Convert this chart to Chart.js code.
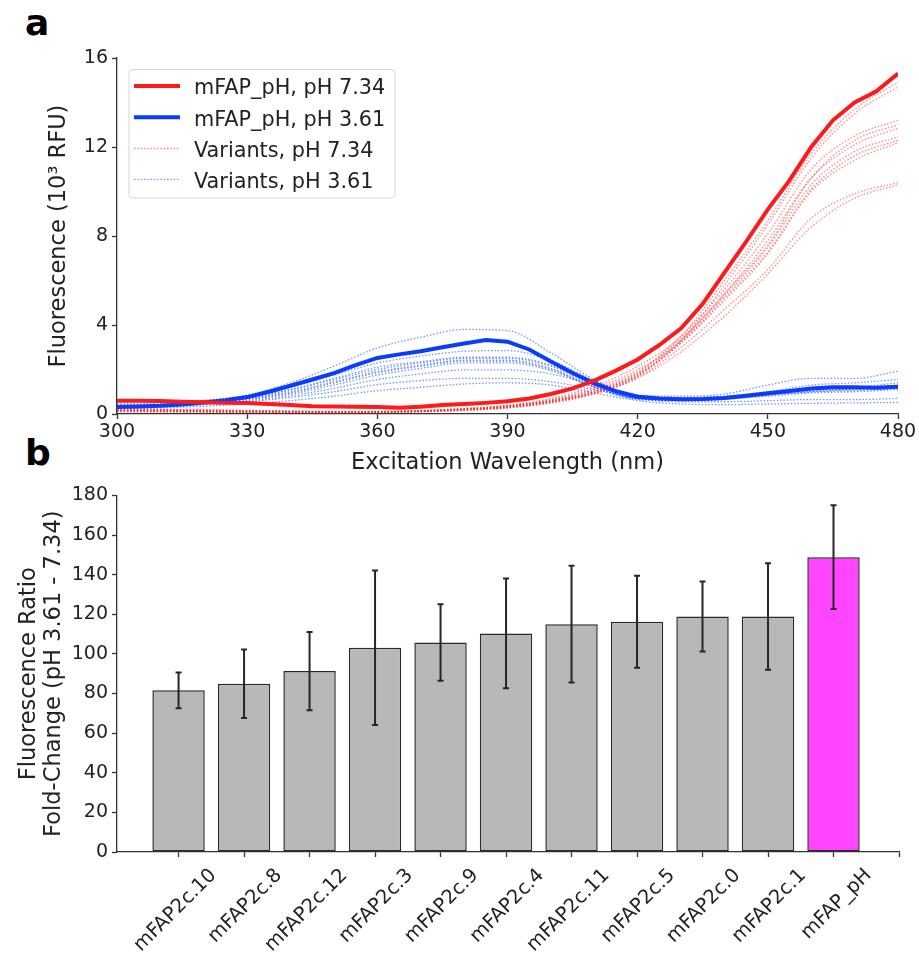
<!DOCTYPE html>
<html><head><meta charset="utf-8">
<script src="https://cdn.jsdelivr.net/npm/chart.js@4.4.1/dist/chart.umd.min.js"></script>
<style>
body{margin:0;background:#fff;width:919px;height:955px;position:relative;overflow:hidden;font-family:"DejaVu Sans";}
#ca{position:absolute;left:0;top:0;}
#cb{position:absolute;left:0;top:480px;}
.lbl{position:absolute;font-weight:bold;font-size:36px;line-height:36px;font-family:"DejaVu Sans";color:#000;}
</style></head><body>
<div class="lbl" style="left:25px;top:5px">a</div>
<div class="lbl" style="left:25px;top:435px">b</div>
<canvas id="ca" width="919" height="480"></canvas>
<canvas id="cb" width="919" height="475"></canvas>
<script>
// ---------- Panel a data ----------
const wavelengths5 = [300,305,310,315,320,325,330,335,340,345,350,355,360,365,370,375,380,385,390,395,400,405,410,415,420,425,430,435,440,445,450,455,460,465,470,475,480];
const mfapPH734 = [0.60,0.60,0.58,0.55,0.53,0.50,0.49,0.45,0.40,0.35,0.34,0.33,0.32,0.28,0.33,0.40,0.45,0.50,0.57,0.70,0.90,1.15,1.50,1.95,2.45,3.10,3.85,4.95,6.35,7.75,9.20,10.50,12.00,13.20,14.00,14.50,15.30];
const mfapPH361 = [0.32,0.34,0.37,0.43,0.52,0.62,0.76,1.00,1.27,1.55,1.84,2.20,2.52,2.68,2.82,3.00,3.17,3.33,3.25,2.90,2.36,1.84,1.38,1.02,0.78,0.70,0.66,0.67,0.72,0.82,0.93,1.03,1.15,1.20,1.20,1.18,1.22];
const wavelengths10 = [300,310,320,330,340,350,360,370,380,390,400,410,420,430,440,450,460,470,480];
const variantsPH734 = [
  [0.20,0.18,0.16,0.14,0.12,0.10,0.10,0.15,0.25,0.40,0.70,1.25,2.15,3.50,6.00,8.70,11.70,13.70,14.90],
  [0.15,0.14,0.12,0.10,0.10,0.08,0.10,0.14,0.22,0.36,0.65,1.15,2.00,3.30,5.80,8.50,11.50,13.50,14.70],
  [0.25,0.22,0.20,0.17,0.15,0.12,0.12,0.16,0.24,0.38,0.62,1.10,1.90,3.50,5.60,8.10,11.00,12.50,13.20],
  [0.18,0.16,0.14,0.12,0.10,0.10,0.10,0.14,0.22,0.35,0.60,1.05,1.85,3.40,5.40,7.80,10.60,12.10,12.85],
  [0.22,0.20,0.18,0.15,0.12,0.10,0.10,0.13,0.20,0.33,0.58,1.00,1.80,3.30,5.30,7.50,10.30,11.80,12.45],
  [0.12,0.10,0.10,0.08,0.07,0.06,0.07,0.11,0.18,0.30,0.55,0.98,1.75,3.20,5.20,7.30,10.10,11.60,12.30],
  [0.16,0.14,0.12,0.10,0.08,0.07,0.08,0.12,0.20,0.32,0.56,0.98,1.75,3.20,5.10,7.20,10.00,11.40,12.20],
  [0.10,0.10,0.08,0.07,0.06,0.05,0.06,0.10,0.16,0.27,0.50,0.92,1.70,3.30,5.40,7.60,10.60,12.30,13.00],
  [0.20,0.18,0.15,0.12,0.10,0.09,0.10,0.13,0.20,0.32,0.55,0.95,1.65,3.00,4.70,6.50,8.80,9.90,10.40],
  [0.14,0.12,0.10,0.09,0.08,0.07,0.08,0.11,0.17,0.28,0.50,0.90,1.60,2.80,4.40,6.30,8.40,9.70,10.30]
];
const variantsPH361 = [
  [0.45,0.50,0.62,0.85,1.40,2.15,2.97,3.45,3.80,3.75,2.75,1.55,0.85,0.80,0.90,1.30,1.60,1.60,1.92],
  [0.40,0.45,0.58,0.80,1.20,1.75,2.29,2.60,2.82,2.85,2.40,1.50,0.80,0.75,0.80,1.00,1.30,1.40,1.55],
  [0.35,0.40,0.55,0.75,1.10,1.60,2.10,2.35,2.55,2.55,2.20,1.35,0.75,0.70,0.75,0.95,1.15,1.20,1.40],
  [0.38,0.42,0.55,0.72,1.08,1.55,2.00,2.30,2.50,2.50,2.15,1.30,0.70,0.65,0.70,0.90,1.10,1.15,1.30],
  [0.33,0.38,0.50,0.70,1.00,1.45,1.90,2.20,2.42,2.42,2.05,1.25,0.68,0.63,0.68,0.88,1.05,1.12,1.25],
  [0.30,0.36,0.48,0.68,0.95,1.40,1.85,2.15,2.38,2.38,2.00,1.20,0.65,0.60,0.65,0.85,1.00,1.10,1.20],
  [0.32,0.37,0.48,0.65,0.90,1.30,1.75,2.05,2.30,2.30,1.95,1.20,0.70,0.65,0.70,0.85,1.00,1.05,1.15],
  [0.28,0.33,0.45,0.60,0.82,1.15,1.55,1.80,1.98,1.98,1.80,1.30,0.85,0.70,0.70,0.80,0.95,1.00,1.10],
  [0.30,0.33,0.42,0.55,0.75,1.00,1.32,1.50,1.60,1.60,1.45,1.10,0.70,0.55,0.55,0.60,0.65,0.65,0.70],
  [0.25,0.28,0.35,0.45,0.60,0.80,1.05,1.20,1.35,1.40,1.30,0.95,0.60,0.45,0.42,0.45,0.48,0.50,0.52]
];
const xTicksA = [300,330,360,390,420,450,480];
const yTicksA = [0,4,8,12,16];

// ---------- Panel b data ----------
const variants = ['mFAP2c.10','mFAP2c.8','mFAP2c.12','mFAP2c.3','mFAP2c.9','mFAP2c.4','mFAP2c.11','mFAP2c.5','mFAP2c.0','mFAP2c.1','mFAP_pH'];
const foldChange = [81.6,84.9,91.3,103.1,105.8,110.3,115.0,116.2,118.9,118.9,148.8];
const foldError = [9.0,17.3,19.7,39.0,19.3,27.7,29.5,23.2,17.7,26.9,26.2];
const yTicksB = [0,20,40,60,80,100,120,140,160,180];
const xTickPositionsB = [0,1,2,3,4,5,6,7,8,9,10,11];

const TXT = '#222';
const AX = '#333';
const FONT = 'DejaVu Sans';
const RED = '#ff1a1a', BLUE = '#0a3cff';
const RED_V = 'rgba(255,40,40,0.55)', BLUE_V = 'rgba(10,60,255,0.55)';

function pts(xs, ys){ return ys.map((v,i)=>({x:xs[i], y:v})); }

const dsA = [];
dsA.push({label:'mFAP_pH, pH 7.34', data:pts(wavelengths5,mfapPH734), borderColor:RED, borderWidth:4, pointRadius:0, tension:0});
dsA.push({label:'mFAP_pH, pH 3.61', data:pts(wavelengths5,mfapPH361), borderColor:BLUE, borderWidth:4, pointRadius:0, tension:0});
variantsPH734.forEach(v=>dsA.push({label:'Variants, pH 7.34', data:pts(wavelengths10,v), borderColor:RED_V, borderWidth:1.3, borderDash:[1.5,1.8], pointRadius:0, cubicInterpolationMode:'monotone'}));
variantsPH361.forEach(v=>dsA.push({label:'Variants, pH 3.61', data:pts(wavelengths10,v), borderColor:BLUE_V, borderWidth:1.3, borderDash:[1.5,1.8], pointRadius:0, cubicInterpolationMode:'monotone'}));

const boxLegend = {
  id:'boxLegend',
  afterDraw(chart){
    const ctx = chart.ctx;
    const seen = new Set(), items = [];
    chart.data.datasets.forEach(ds=>{ if(!seen.has(ds.label)){ seen.add(ds.label); items.push(ds);} });
    ctx.save();
    const bx=129, by=69.5, bw=266, bh=128.5, r=4;
    ctx.beginPath();
    ctx.moveTo(bx+r,by); ctx.lineTo(bx+bw-r,by); ctx.arcTo(bx+bw,by,bx+bw,by+r,r);
    ctx.lineTo(bx+bw,by+bh-r); ctx.arcTo(bx+bw,by+bh,bx+bw-r,by+bh,r);
    ctx.lineTo(bx+r,by+bh); ctx.arcTo(bx,by+bh,bx,by+bh-r,r);
    ctx.lineTo(bx,by+r); ctx.arcTo(bx,by,bx+r,by,r); ctx.closePath();
    ctx.fillStyle='rgba(255,255,255,0.85)'; ctx.fill();
    ctx.strokeStyle='#d6d6d6'; ctx.lineWidth=1; ctx.stroke();
    const rows=[86,117.3,148.5,179.3];
    items.forEach((ds,i)=>{
      const y=rows[i];
      ctx.beginPath();
      ctx.setLineDash(ds.borderDash||[]);
      ctx.strokeStyle=ds.borderColor; ctx.lineWidth=ds.borderWidth;
      ctx.moveTo(134,y); ctx.lineTo(180,y); ctx.stroke();
      ctx.setLineDash([]);
      ctx.fillStyle=TXT; ctx.font='20.8px "DejaVu Sans"';
      ctx.textAlign='left'; ctx.textBaseline='alphabetic';
      ctx.fillText(ds.label,194,y+8.2);
    });
    ctx.restore();
  }
};

new Chart(document.getElementById('ca'), {
  type:'line',
  data:{datasets:dsA},
  plugins:[boxLegend],
  options:{
    responsive:false, animation:false, devicePixelRatio:1,
    layout:{padding:{top:58, right:21, left:0, bottom:0}},
    plugins:{legend:{display:false}, tooltip:{enabled:false}},
    scales:{
      x:{type:'linear', min:300, max:480,
         afterBuildTicks:s=>{ s.ticks = xTicksA.map(v=>({value:v})); },
         afterFit:s=>{ s.height = 66; },
         grid:{drawOnChartArea:false, drawTicks:true, tickLength:5, color:AX, tickWidth:1.3},
         border:{color:AX, width:1.3},
         ticks:{color:TXT, font:{family:FONT, size:19}, padding:2, maxRotation:0},
         title:{display:true, text:'Excitation Wavelength (nm)', color:TXT, font:{family:FONT, size:22.5}, padding:{top:0,bottom:3}}
      },
      y:{type:'linear', min:0, max:16,
         afterBuildTicks:s=>{ s.ticks = yTicksA.map(v=>({value:v})); },
         afterFit:s=>{ s.width = 117; },
         grid:{drawOnChartArea:false, drawTicks:true, tickLength:5, color:AX, tickWidth:1.3},
         border:{color:AX, width:1.3},
         ticks:{color:TXT, font:{family:FONT, size:19}, padding:4},
         title:{display:true, text:'Fluorescence (10³ RFU)', color:TXT, font:{family:FONT, size:22.5}, padding:{top:46,bottom:0}}
      }
    }
  }
});

const errorBars = {
  id:'errorBars',
  afterDatasetsDraw(chart){
    const meta = chart.getDatasetMeta(0);
    const ys = chart.scales.y, ctx = chart.ctx;
    ctx.save();
    ctx.strokeStyle='#262626'; ctx.lineWidth=2;
    meta.data.forEach((bar,i)=>{
      const x=bar.x;
      const t=ys.getPixelForValue(foldChange[i]+foldError[i]);
      const b=ys.getPixelForValue(foldChange[i]-foldError[i]);
      ctx.beginPath();
      ctx.moveTo(x,t); ctx.lineTo(x,b);
      ctx.moveTo(x-3,t); ctx.lineTo(x+3,t);
      ctx.moveTo(x-3,b); ctx.lineTo(x+3,b);
      ctx.stroke();
    });
    ctx.restore();
  }
};

new Chart(document.getElementById('cb'), {
  type:'bar',
  data:{datasets:[{
    label:'Fold-change',
    data:foldChange.map((v,i)=>({x:i, y:v})),
    backgroundColor:variants.map(n=> n==='mFAP_pH' ? '#ff45ff' : '#b8b8b8'),
    borderColor:'#2a2a2a', borderWidth:1.5, borderSkipped:false,
    barPercentage:0.8, categoryPercentage:1.0
  }]},
  plugins:[errorBars],
  options:{
    responsive:false, animation:false, devicePixelRatio:1,
    layout:{padding:{top:15, right:20, left:0, bottom:0}},
    plugins:{legend:{display:false}, tooltip:{enabled:false}},
    scales:{
      x:{type:'linear', min:-0.94, max:11, offset:false,
         afterBuildTicks:s=>{ s.ticks = xTickPositionsB.map(v=>({value:v})); },
         afterFit:s=>{ s.height = 103; s.paddingRight = 0; },
         grid:{offset:false, drawOnChartArea:false, drawTicks:true, tickLength:5, color:AX, tickWidth:1.3},
         border:{color:AX, width:1.3},
         ticks:{color:TXT, font:{family:FONT, size:19.5}, padding:7, minRotation:45, maxRotation:45, autoSkip:false, labelOffset:35,
                callback:v=> variants[v] !== undefined ? variants[v] : ''}
      },
      y:{type:'linear', min:0, max:180,
         afterBuildTicks:s=>{ s.ticks = yTicksB.map(v=>({value:v})); },
         afterFit:s=>{ s.width = 117; },
         grid:{drawOnChartArea:false, drawTicks:true, tickLength:5, color:AX, tickWidth:1.3},
         border:{color:AX, width:1.3},
         ticks:{color:TXT, font:{family:FONT, size:19}, padding:4},
         title:{display:true, text:['Fluorescence Ratio','Fold-Change (pH 3.61 - 7.34)'], color:TXT, font:{family:FONT, size:22.5, lineHeight:1.1}, padding:{top:17,bottom:0}}
      }
    }
  }
});
</script>
</body></html>
